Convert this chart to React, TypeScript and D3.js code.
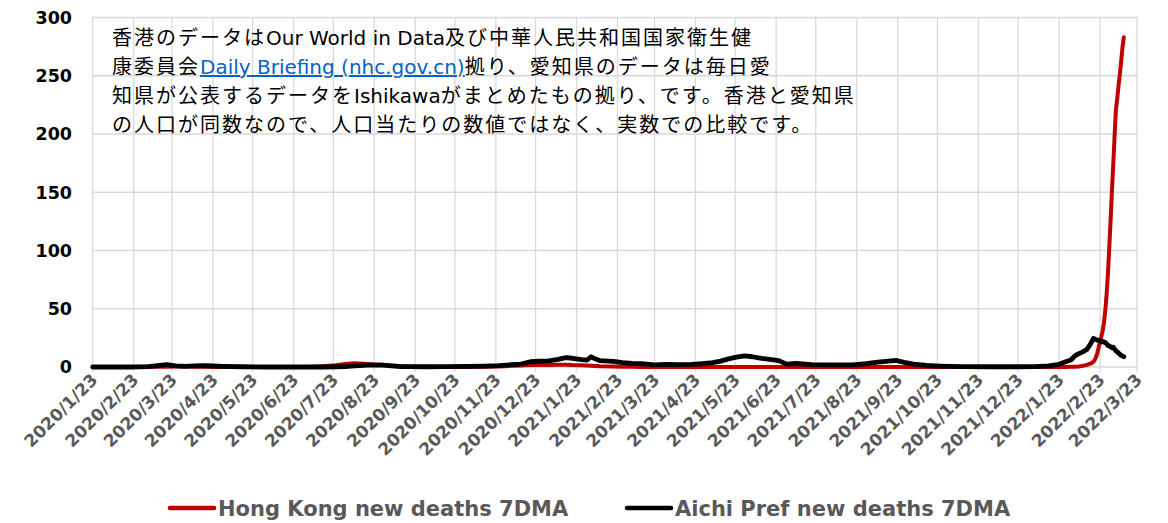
import React from "react";
import * as d3 from "d3";

const dates: string[] = [
  "2020-01-23","2020-02-06","2020-02-20","2020-03-05","2020-03-12","2020-03-19","2020-03-26","2020-04-02","2020-04-09","2020-04-16",
  "2020-04-23","2020-04-30","2020-05-14","2020-06-01","2020-06-20","2020-07-05","2020-07-15","2020-07-25","2020-08-01","2020-08-08",
  "2020-08-15","2020-08-22","2020-08-29","2020-09-05","2020-09-12","2020-09-19","2020-10-01","2020-10-15","2020-11-01","2020-11-15",
  "2020-11-25","2020-12-05","2020-12-12","2020-12-19","2020-12-26","2021-01-02","2021-01-09","2021-01-15","2021-01-20","2021-01-27",
  "2021-01-31","2021-02-03","2021-02-06","2021-02-10","2021-02-20","2021-02-27","2021-03-06","2021-03-13","2021-03-23","2021-04-01",
  "2021-04-10","2021-04-20","2021-04-28","2021-05-06","2021-05-12","2021-05-18","2021-05-24","2021-05-30","2021-06-05","2021-06-12",
  "2021-06-18","2021-06-25","2021-07-01","2021-07-08","2021-07-20","2021-08-05","2021-08-20","2021-08-30","2021-09-08","2021-09-16",
  "2021-09-22","2021-09-28","2021-10-05","2021-10-15","2021-10-25","2021-11-10","2021-12-01","2021-12-20","2022-01-05","2022-01-15",
  "2022-01-22","2022-01-28","2022-02-01","2022-02-04","2022-02-07","2022-02-10","2022-02-13","2022-02-16","2022-02-18","2022-02-19",
  "2022-02-20","2022-02-21","2022-02-22","2022-02-23","2022-02-24","2022-02-25","2022-02-26","2022-02-27","2022-02-28","2022-03-01",
  "2022-03-02","2022-03-03","2022-03-04","2022-03-05","2022-03-06","2022-03-07","2022-03-08","2022-03-09","2022-03-10","2022-03-11",
  "2022-03-12","2022-03-13",
];

const hongKong: number[] = [
  0,0,0.1,0.3,0.2,0.3,0.5,0.6,0.3,0.3,
  0.1,0,0,0,0,0.1,0.6,1.5,2.5,3.2,
  2.8,2.2,2.0,1.2,0.6,0.3,0.2,0.1,0.1,0.2,
  0.4,1.0,1.3,1.8,1.7,1.8,2.0,2.0,1.7,1.5,
  1.2,1.0,0.8,0.6,0.4,0.3,0.2,0.1,0.1,0.1,
  0,0,0,0,0,0,0,0,0,0,
  0,0,0,0,0,0,0,0,0,0,
  0,0,0,0,0,0,0,0,0,0,
  0,0.1,0.2,0.3,0.5,1.0,1.8,3.0,4.5,6,
  8.5,12,17,22,26,31,38,48,62,80,
  102,125,150,173,197,220,230,241,251,262,
  274,283,
];

const aichi: number[] = [
  0,0,0,0.3,1.2,2.0,1.0,0.6,1.0,1.2,
  0.9,0.6,0.2,0,0,0,0,0.2,0.4,1.0,
  1.5,1.8,1.6,1.0,0.4,0.3,0.2,0.3,0.5,0.8,
  1.2,2.0,2.5,4.5,5.0,5.2,6.5,8.0,7.5,6.3,
  6.0,8.8,7.0,5.4,4.8,3.8,3.0,2.8,1.8,2.2,
  2.0,2.2,2.8,3.8,5.0,7.0,8.5,9.5,8.8,7.5,
  6.6,5.5,2.5,3.0,2.0,1.8,1.8,2.8,4.2,5.0,
  5.6,4.0,2.5,1.3,0.8,0.3,0.2,0.2,0.3,1.0,
  2.0,4.5,6.0,9.5,11.5,13.0,15.0,20.0,24.5,24.0,
  23.5,23.0,22.8,22.5,21.5,22.0,21.5,21.0,20.0,18.5,
  18.0,17.5,16.5,17.0,15.5,14.0,13.0,12.0,11.0,10.0,
  9.5,8.8,
];

const xTickLabels: string[] = [
  "2020/1/23","2020/2/23","2020/3/23","2020/4/23","2020/5/23","2020/6/23","2020/7/23","2020/8/23","2020/9/23",
  "2020/10/23","2020/11/23","2020/12/23","2021/1/23","2021/2/23","2021/3/23","2021/4/23","2021/5/23","2021/6/23",
  "2021/7/23","2021/8/23","2021/9/23","2021/10/23","2021/11/23","2021/12/23","2022/1/23","2022/2/23","2022/3/23",
];
const yTicks: number[] = [0, 50, 100, 150, 200, 250, 300];

const seriesNames: string[] = ["Hong Kong new deaths 7DMA", "Aichi Pref new deaths 7DMA"];
const seriesColors: string[] = ["#C00000", "#000000"];

const noteLines: { pre: string; link?: string; post?: string }[] = [
  { pre: "香港のデータはOur World in Data及び中華人民共和国国家衛生健" },
  { pre: "康委員会", link: "Daily Briefing (nhc.gov.cn)", post: "拠り、愛知県のデータは毎日愛" },
  { pre: "知県が公表するデータをIshikawaがまとめたもの拠り、です。香港と愛知県" },
  { pre: "の人口が同数なので、人口当たりの数値ではなく、実数での比較です。" },
];

const W = 1168, H = 523;
const left = 92.7, right = 1137, top = 17.5, bottom = 367;

function scriptRuns(s: string, keyBase: string) {
  const parts = s.split(/([\u0000-\u007F]+)/).filter((p) => p.length > 0);
  return parts.map((p, i) => {
    const ascii = /^[\u0000-\u007F]+$/.test(p);
    return (
      <tspan key={keyBase + i} letterSpacing={ascii ? 0 : 2}>
        {p}
      </tspan>
    );
  });
}

export default function App() {
  const parseD = d3.timeParse("%Y-%m-%d");
  const parseT = d3.timeParse("%Y/%m/%d");
  const tickDates = xTickLabels.map((s) => parseT(s) as Date);
  const x = d3.scaleTime().domain([tickDates[0], tickDates[tickDates.length - 1]]).range([left, right]);
  const y = d3.scaleLinear().domain([0, 300]).range([bottom, top]);
  const pts = dates.map((d) => parseD(d) as Date);
  const line = d3.line<number>().x((_, i) => x(pts[i])).y((v) => y(v)).curve(d3.curveLinear);
  const series = [hongKong, aichi];
  const grid = "#D9D9D9";
  const fontLatin = "'DejaVu Sans', Verdana, sans-serif";
  const fontJP = "'DejaVu Sans', 'Noto Sans CJK JP', sans-serif";

  return (
    <svg width={W} height={H} style={{ position: "absolute", left: 0, top: 0, background: "#fff" }}>
      <rect x={0} y={0} width={W} height={H} fill="#fff" />
      {yTicks.map((t) => (
        <line key={"h" + t} x1={left} x2={right + 1} y1={y(t)} y2={y(t)} stroke={grid} strokeWidth={1.3} />
      ))}
      {tickDates.map((d, i) => (
        <line key={"v" + i} x1={x(d)} x2={x(d)} y1={top} y2={bottom + 5} stroke={grid} strokeWidth={1.3} />
      ))}
      {yTicks.map((t) => (
        <text key={"yl" + t} x={72} y={y(t)} dy="0.36em" textAnchor="end" fontFamily={fontLatin} fontWeight="bold" fontSize={17.5} fill="#000">
          {t}
        </text>
      ))}
      {tickDates.map((d, i) => (
        <text
          key={"xl" + i}
          transform={`translate(${x(d) + 6},${bottom + 14}) rotate(-45)`}
          textAnchor="end"
          fontFamily={fontLatin}
          fontWeight="bold"
          fontSize={17}
          fill="#595959"
        >
          {xTickLabels[i]}
        </text>
      ))}
      {series.map((s, i) => (
        <path key={"s" + i} d={line(s) || ""} fill="none" stroke={seriesColors[i]} strokeWidth={i === 0 ? 4 : 4.8} strokeLinejoin="round" strokeLinecap="round" />
      ))}
      <g fontFamily={fontJP} fontSize={20} fill="#000">
        {noteLines.map((l, i) => (
          <text key={"n" + i} x={112} y={45 + i * 29}>
            {scriptRuns(l.pre, "a" + i)}
            {l.link && (
              <tspan fill="#0563C1" textDecoration="underline" style={{ textDecoration: "underline" }}>
                {l.link}
              </tspan>
            )}
            {l.post && scriptRuns(l.post, "b" + i)}
          </text>
        ))}
      </g>
      {[170, 627].map((lx, i) => (
        <g key={"lg" + i}>
          <line x1={lx} x2={lx + 44} y1={508} y2={508} stroke={seriesColors[i]} strokeWidth={4.5} strokeLinecap="round" />
          <text x={lx + 48} y={515.5} fontFamily={fontLatin} fontWeight="bold" fontSize={21} fill="#595959">
            {seriesNames[i]}
          </text>
        </g>
      ))}
    </svg>
  );
}
